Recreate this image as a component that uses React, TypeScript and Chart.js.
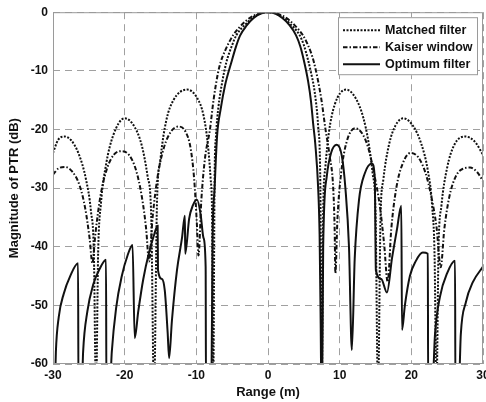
import React, { useEffect, useRef } from "react";
import { Chart, registerables } from "chart.js";

Chart.register(...registerables);

const FONT = "'Liberation Sans', Arial, Helvetica, sans-serif";

const rangeMin = -30;
const rangeMax = 30;
const dbMin = -60;
const dbMax = 0;
const tickStep = 10;

const seriesLabels = ["Matched filter", "Kaiser window", "Optimum filter"];

// [range (m), magnitude (dB)]; -65 = below the axis floor
const matched: [number, number][] = [
  [-30, -24.0], [-29.3, -21.8], [-28.4, -21.2], [-27.5, -21.8], [-26.4, -24.2], [-25.4, -28.5],
  [-24.7, -34], [-24.3, -41], [-24.0, -65], [-23.7, -41], [-23.3, -32.5], [-22.6, -26],
  [-21.6, -21], [-20.0, -18.1], [-18.6, -19.6], [-17.6, -22.8], [-16.8, -28], [-16.3, -34.5],
  [-15.9, -65], [-15.5, -33], [-15.0, -25], [-14.2, -18.5], [-13.2, -15.0], [-11.3, -13.2],
  [-9.9, -14.6], [-9.0, -17.6], [-8.4, -22.5], [-8.0, -28.5], [-7.8, -35], [-7.65, -65],
  [-7.45, -28], [-7.25, -21], [-6.9, -16], [-6.4, -12], [-5.8, -8.5], [-5.0, -5.6],
  [-4.4, -3.9], [-3.0, -1.9], [-2.0, -0.8], [-1.0, -0.2], [0, 0],
  [1.0, -0.2], [2.0, -0.8], [3.0, -1.9], [4.4, -3.9], [5.0, -5.6], [5.6, -8.2], [6.0, -10.3],
  [6.5, -13.5], [7.0, -19.5], [7.3, -29], [7.5, -65], [7.7, -34], [8.0, -26.5], [8.5, -20.5],
  [9.3, -15.8], [10.9, -13.2], [12.3, -14.8], [13.3, -18], [14.0, -22], [14.6, -27.5],
  [15.0, -34], [15.35, -65], [15.7, -35], [16.1, -28.5], [16.9, -22.5], [17.8, -19.3],
  [18.9, -18.1], [20.3, -19.5], [21.4, -22.5], [22.3, -27], [22.9, -33], [23.25, -42],
  [23.5, -65], [23.8, -40], [24.2, -33], [25.0, -26.5], [26.0, -22.6], [27.5, -21.2],
  [28.8, -22.0], [30, -24.3],
];

const kaiser: [number, number][] = [
  [-30, -27.7], [-29.2, -26.6], [-28.3, -26.4], [-27.3, -27.2], [-26.3, -29.5], [-25.5, -33.5],
  [-24.9, -38.5], [-24.5, -42.8], [-24.1, -38], [-23.4, -31.5], [-22.5, -26.8], [-21.5, -24.3],
  [-20.4, -23.7], [-19.3, -24.5], [-18.4, -27], [-17.6, -31.5], [-17.0, -37], [-16.6, -42.5],
  [-16.1, -35], [-15.4, -28], [-14.5, -23], [-13.5, -20.3], [-12.5, -19.5], [-11.5, -20.4],
  [-10.8, -23.2], [-10.3, -28.5], [-9.95, -35.5], [-9.7, -41.5], [-9.3, -32], [-8.8, -25],
  [-8.1, -20], [-7.6, -15], [-7.0, -10.5], [-6.6, -8.5], [-6.0, -6.6], [-5.5, -5.3],
  [-4.85, -3.9], [-4.0, -2.6], [-3.0, -1.4], [-2.0, -0.6], [-1.0, -0.15], [0, 0],
  [1.0, -0.15], [2.0, -0.6], [3.0, -1.4], [4.0, -2.6], [4.85, -3.9], [5.5, -5.4], [6.0, -6.9],
  [6.4, -8.5], [7.0, -11.8], [7.5, -15.3], [8.0, -19.8], [8.6, -24.5], [9.1, -30], [9.3, -37],
  [9.4, -44.5], [9.7, -35], [10.2, -27.5], [11.0, -22], [12.2, -19.8], [13.2, -20.8],
  [14.0, -23.2], [14.8, -27.5], [15.6, -33], [16.2, -39.5], [16.7, -46], [17.2, -37],
  [17.9, -30], [18.8, -25.8], [19.9, -24.0], [21.0, -24.8], [22.0, -27.5], [22.8, -31.5],
  [23.5, -36.5], [24.1, -43.5], [24.6, -37], [25.3, -31.5], [26.2, -28], [27.2, -26.7],
  [28.2, -26.5], [29.2, -27.3], [30, -28.8],
];

const optimum: [number, number][] = [
  [-29.75, -65], [-29.6, -58], [-29.2, -52], [-28.5, -48], [-27.6, -45], [-26.5, -42.8],
  [-26.45, -65], [-26.0, -65], [-25.8, -58], [-25.2, -51], [-24.4, -46.5], [-23.5, -43.8],
  [-22.6, -42.2], [-22.55, -65], [-22.1, -65], [-21.8, -58], [-21.2, -50.5], [-20.4, -45],
  [-19.6, -41.5], [-18.9, -39.7], [-18.6, -55.6], [-18.1, -51], [-17.4, -45.5], [-16.6, -41],
  [-15.9, -38], [-15.4, -36.4], [-15.35, -44], [-14.8, -45.5], [-14.4, -47.5], [-14.0, -54.7],
  [-13.8, -59], [-13.4, -52.5], [-12.7, -44], [-12.0, -38.5], [-11.6, -34.7], [-11.55, -41.2],
  [-11.0, -35.2], [-10.5, -33], [-9.9, -32.0], [-9.4, -34.5], [-9.0, -38.5], [-8.7, -43.5],
  [-8.65, -65], [-7.9, -65], [-7.75, -40], [-7.45, -30], [-7.1, -21], [-6.6, -16.5],
  [-6.0, -12.5], [-5.1, -8.5], [-4.5, -6.0], [-3.9, -4.0], [-3.0, -2.3], [-2.0, -1.0],
  [-1.0, -0.25], [0, 0],
  [1.0, -0.25], [2.0, -1.0], [3.0, -2.2], [3.9, -3.9], [4.5, -5.8], [5.0, -8.2], [5.6, -11.8],
  [6.0, -15.2], [6.3, -19.0], [6.6, -22.5], [7.0, -30], [7.2, -38], [7.35, -53], [7.45, -65],
  [7.55, -65], [7.7, -40], [8.2, -28], [8.8, -24], [9.6, -22.6], [10.3, -24.5], [10.8, -30],
  [11.3, -40], [11.7, -57.6], [12.1, -42], [12.7, -32], [13.5, -27.5], [14.5, -25.8],
  [14.9, -28.3], [15.05, -44], [15.8, -45.5], [16.6, -47.8], [17.3, -42], [18.0, -37],
  [18.6, -33], [18.7, -54.2], [19.1, -50], [19.8, -45], [20.6, -42.5], [21.6, -41.0],
  [22.3, -41.2], [22.35, -65], [22.9, -65], [23.3, -55], [24.0, -48.5], [25.0, -44.5],
  [26.1, -42.4], [26.15, -65], [26.6, -65], [26.9, -55], [27.6, -49.5], [28.6, -46], [30, -43.4],
];

const seriesPoints = [matched, kaiser, optimum];
const seriesDash = [[2, 1.5], [4.5, 2, 1.5, 2], []];

const frame = {
  id: "frame",
  afterDatasetsDraw(chart: any) {
    const { ctx, chartArea } = chart;
    const { left, top, right, bottom } = chartArea;
    ctx.save();
    ctx.strokeStyle = "#9a9a9a";
    ctx.lineWidth = 1;
    ctx.setLineDash([]);
    ctx.strokeRect(left + 0.5, top + 0.5, right - left - 1, bottom - top - 1);
    ctx.restore();
  },
};

const boxLegend = {
  id: "boxLegend",
  afterDraw(chart: any) {
    const { ctx, chartArea } = chart;
    const w = 140;
    const h = 58;
    const x0 = chartArea.right - 5 - w;
    const y0 = chartArea.top + 5;
    ctx.save();
    ctx.fillStyle = "#ffffff";
    ctx.fillRect(x0, y0, w, h);
    ctx.strokeStyle = "#9a9a9a";
    ctx.lineWidth = 1;
    ctx.setLineDash([]);
    ctx.strokeRect(x0 + 0.5, y0 + 0.5, w - 1, h - 1);
    chart.data.datasets.forEach((ds: any, i: number) => {
      const cy = y0 + 13 + i * 17;
      ctx.beginPath();
      ctx.strokeStyle = ds.borderColor;
      ctx.lineWidth = ds.borderWidth;
      ctx.setLineDash(ds.borderDash || []);
      ctx.moveTo(x0 + 5, cy);
      ctx.lineTo(x0 + 42, cy);
      ctx.stroke();
      ctx.setLineDash([]);
      ctx.fillStyle = "#111";
      ctx.font = `bold 12.5px ${FONT}`;
      ctx.textBaseline = "middle";
      ctx.textAlign = "left";
      ctx.fillText(ds.label, x0 + 47, cy + 0.5);
    });
    ctx.restore();
  },
};

export default function App() {
  const ref = useRef<HTMLCanvasElement | null>(null);

  useEffect(() => {
    if (!ref.current) return;
    const chart = new Chart(ref.current, {
      type: "line",
      data: {
        datasets: seriesLabels.map((label, i) => ({
          label,
          data: seriesPoints[i].map(([x, y]) => ({ x, y })),
          borderColor: "#111111",
          borderWidth: 2,
          borderDash: seriesDash[i],
          pointRadius: 0,
          fill: false,
          cubicInterpolationMode: "monotone" as const,
        })),
      },
      options: {
        responsive: false,
        animation: false,
        layout: { padding: { left: 0, right: 3, top: 10, bottom: 0 } },
        plugins: { legend: { display: false }, tooltip: { enabled: false } },
        scales: {
          x: {
            type: "linear",
            min: rangeMin,
            max: rangeMax,
            ticks: {
              stepSize: tickStep,
              color: "#111",
              padding: 4,
              maxRotation: 0,
              font: { family: FONT, size: 12, weight: "bold" },
            },
            grid: { color: "#a0a0a0", lineWidth: 1, drawTicks: false },
            border: { display: false, dash: [7, 5] },
            title: {
              display: true,
              text: "Range (m)",
              color: "#111",
              font: { family: FONT, size: 13, weight: "bold" },
              padding: { top: 0, bottom: 2 },
            },
            afterFit: (s: any) => {
              s.height = 38;
              s.paddingLeft = 0;
              s.paddingRight = 0;
            },
          },
          y: {
            min: dbMin,
            max: dbMax,
            ticks: {
              stepSize: tickStep,
              color: "#111",
              padding: 5,
              font: { family: FONT, size: 12, weight: "bold" },
            },
            grid: { color: "#a0a0a0", lineWidth: 1, drawTicks: false },
            border: { display: false, dash: [7, 5] },
            title: {
              display: true,
              text: "Magnitude of PTR (dB)",
              color: "#111",
              font: { family: FONT, size: 13, weight: "bold" },
              padding: { top: 7, bottom: 0 },
            },
            afterFit: (s: any) => {
              s.width = 53;
            },
          },
        },
      },
      plugins: [frame, boxLegend],
    } as any);
    return () => chart.destroy();
  }, []);

  return (
    <div style={{ position: "absolute", left: 0, top: 0, width: 486, height: 402, background: "#fff" }}>
      <canvas ref={ref} width={486} height={402} style={{ display: "block" }} />
    </div>
  );
}
